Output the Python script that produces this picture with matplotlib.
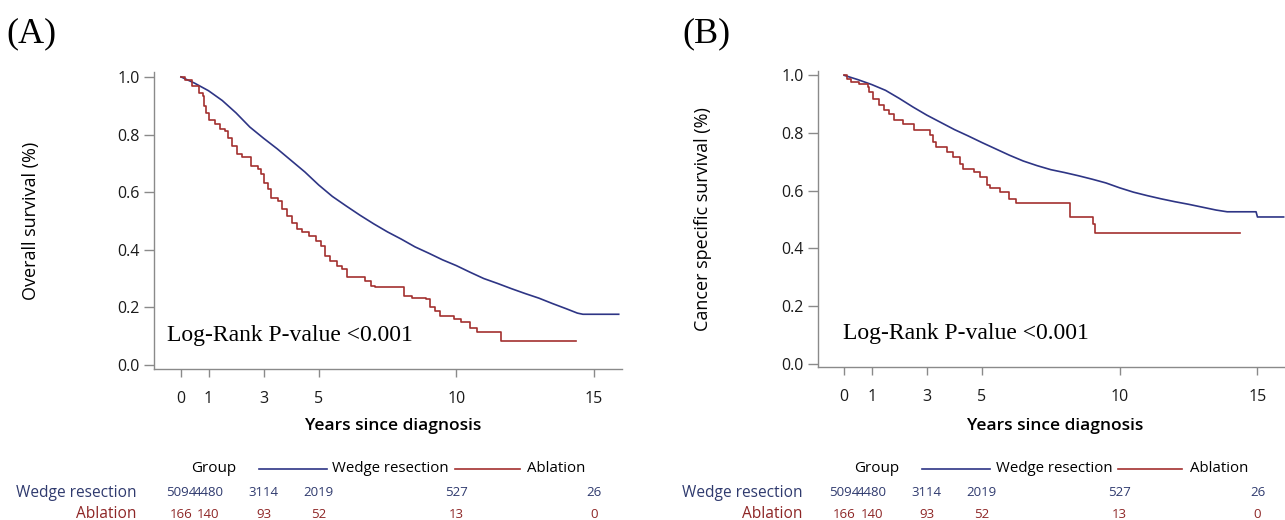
"""Kaplan-Meier curves: wedge resection vs ablation."""

import matplotlib

matplotlib.use("Agg")
import matplotlib.pyplot as plt
from matplotlib.lines import Line2D
from matplotlib.transforms import blended_transform_factory

# ---- data ----
# (A) overall survival
wedge_os_t = [0, 0.5, 1.0, 1.5, 2.0, 2.5, 3.0, 3.5, 4.0, 4.5, 5.0, 5.5, 6.0,
              6.5, 7.0, 7.5, 8.0, 8.5, 9.0, 9.5, 10.0, 10.5, 11.0, 11.5, 12.0,
              12.5, 13.0, 13.5, 14.0, 14.4, 14.6, 15.9]
wedge_os_s = [1.0, 0.978, 0.952, 0.918, 0.875, 0.826, 0.787, 0.75, 0.71, 0.67,
              0.625, 0.585, 0.552, 0.52, 0.49, 0.462, 0.437, 0.41, 0.388, 0.365,
              0.345, 0.322, 0.30, 0.283, 0.265, 0.248, 0.232, 0.213, 0.195,
              0.18, 0.176, 0.176]
abl_os_t = [0, 0.15, 0.40, 0.65, 0.80, 0.84, 0.90, 1.03, 1.22, 1.40, 1.59, 1.72,
            1.84, 2.03, 2.22, 2.53, 2.78, 2.91, 3.03, 3.16, 3.28, 3.53, 3.66,
            3.85, 4.04, 4.22, 4.41, 4.66, 4.91, 5.10, 5.23, 5.41, 5.66, 5.85,
            6.04, 6.67, 6.92, 7.04, 8.11, 8.40, 8.90, 9.05, 9.24, 9.42, 9.92,
            10.18, 10.49, 10.74, 11.62, 14.35]
abl_os_s = [1.0, 0.988, 0.968, 0.945, 0.933, 0.898, 0.875, 0.852, 0.835, 0.818,
            0.812, 0.789, 0.760, 0.731, 0.723, 0.691, 0.679, 0.662, 0.633, 0.610,
            0.581, 0.569, 0.540, 0.517, 0.494, 0.471, 0.460, 0.448, 0.431, 0.413,
            0.379, 0.361, 0.344, 0.333, 0.304, 0.292, 0.275, 0.269, 0.240, 0.234,
            0.229, 0.200, 0.188, 0.171, 0.159, 0.148, 0.130, 0.113, 0.084, 0.084]

# (B) cancer specific survival
wedge_css_t = [0, 0.5, 1.0, 1.5, 2.0, 2.5, 3.0, 3.5, 4.0, 4.5, 5.0, 5.5, 6.0,
               6.5, 7.0, 7.5, 8.0, 8.5, 9.0, 9.5, 10.0, 10.5, 11.0, 11.5, 12.0,
               12.5, 13.0, 13.5, 13.9, 14.95, 15.0, 15.95]
wedge_css_s = [1.0, 0.985, 0.968, 0.948, 0.92, 0.89, 0.862, 0.837, 0.812, 0.79,
               0.767, 0.745, 0.723, 0.703, 0.687, 0.673, 0.663, 0.652, 0.64,
               0.627, 0.61, 0.595, 0.583, 0.572, 0.562, 0.553, 0.543, 0.533,
               0.527, 0.527, 0.509, 0.509]
abl_css_t = [0, 0.12, 0.24, 0.55, 0.85, 0.91, 1.03, 1.28, 1.46, 1.64, 1.82, 2.12,
             2.55, 3.11, 3.23, 3.35, 3.72, 3.96, 4.19, 4.33, 4.70, 4.94, 5.18,
             5.31, 5.67, 5.98, 6.22, 8.19, 9.04, 9.10, 14.35]
abl_css_s = [1.0, 0.988, 0.977, 0.971, 0.960, 0.942, 0.919, 0.896, 0.879, 0.867,
             0.844, 0.833, 0.810, 0.792, 0.769, 0.752, 0.734, 0.717, 0.694, 0.677,
             0.665, 0.648, 0.619, 0.608, 0.596, 0.573, 0.556, 0.509, 0.486, 0.454,
             0.454]

risk_times = [0, 1, 3, 5, 10, 15]
wedge_at_risk = ["5094", "4480", "3114", "2019", "527", "26"]
abl_at_risk = ["166", "140", "93", "52", "13", "0"]

x_ticks = [0, 1, 3, 5, 10, 15]
y_ticks = [0.0, 0.2, 0.4, 0.6, 0.8, 1.0]

BLUE = "#2e3585"
RED = "#a3302f"
BLUE_TXT = "#2f3a6e"
RED_TXT = "#8e2626"
GREY = "#8a8a8a"
SANS = "Open Sans"
SERIF = "Liberation Serif"

W, H = 1285, 520
fig = plt.figure(figsize=(W / 100, H / 100), dpi=100)


def fx(p):
    return p / W


def fy(p):
    return 1 - p / H


panels = [
    dict(tag="(A)", tag_x=6, ylabel="Overall survival (%)", ylab_x=31,
         box=(154, 72, 622, 369), xlim=(-0.98, 16.02), ylim=(-0.014, 1.017),
         wedge=(wedge_os_t, wedge_os_s), abl=(abl_os_t, abl_os_s),
         lr=(167, 335), xlab=393, leg=(214, 259, 327, 332, 455, 520, 527),
         lab_r=137),
    dict(tag="(B)", tag_x=682, ylabel="Cancer specific survival (%)", ylab_x=703,
         box=(818, 71, 1285, 367), xlim=(-0.95, 16.0), ylim=(-0.011, 1.015),
         wedge=(wedge_css_t, wedge_css_s), abl=(abl_css_t, abl_css_s),
         lr=(843, 333), xlab=1055, leg=(877, 922, 990, 996, 1118, 1182, 1190),
         lab_r=803),
]

for p in panels:
    l, t, r, b = p["box"]
    ax = fig.add_axes([fx(l), fy(b), (r - l) / W, (b - t) / H])
    ax.plot(*p["wedge"], color=BLUE, lw=1.2)
    ax.step(*p["abl"], where="post", color=RED, lw=1.2)
    ax.set_xlim(*p["xlim"])
    ax.set_ylim(*p["ylim"])
    ax.set_xticks(x_ticks)
    ax.set_yticks(y_ticks)
    ax.set_yticklabels([f"{v:.1f}" for v in y_ticks])
    for side in ("top", "right"):
        ax.spines[side].set_visible(False)
    for side in ("left", "bottom"):
        ax.spines[side].set_color(GREY)
        ax.spines[side].set_linewidth(1.0)
    ax.tick_params(axis="y", length=7, width=1, color=GREY, pad=3,
                   labelsize=11.5, labelcolor="#1a1a1a")
    ax.tick_params(axis="x", length=6, width=1, color=GREY, pad=10,
                   labelsize=11.5, labelcolor="#1a1a1a")
    for lab in ax.get_xticklabels() + ax.get_yticklabels():
        lab.set_fontfamily(SANS)

    fig.text(fx(p["tag_x"]), fy(34), p["tag"], family=SERIF, fontsize=26,
             va="center", ha="left")
    fig.text(fx(p["ylab_x"]), fy((t + b) / 2), p["ylabel"], family=SANS,
             fontsize=13, rotation=90, va="center", ha="center")
    fig.text(fx(p["lr"][0]), fy(p["lr"][1]), "Log-Rank P-value <0.001",
             family=SERIF, fontsize=17, va="center", ha="left")
    fig.text(fx(p["xlab"]), fy(426), "Years since diagnosis", family=SANS,
             fontsize=12.5, weight="semibold", va="center", ha="center")

    # legend row
    g, b0, b1, wtx, r0, r1, atx = p["leg"]
    ly = fy(469)
    fig.text(fx(g), ly, "Group", family=SANS, fontsize=11, va="center",
             ha="center")
    fig.add_artist(Line2D([fx(b0), fx(b1)], [ly, ly], color=BLUE, lw=1.2))
    fig.text(fx(wtx), ly, "Wedge resection", family=SANS, fontsize=10.8,
             va="center", ha="left")
    fig.add_artist(Line2D([fx(r0), fx(r1)], [ly, ly], color=RED, lw=1.2))
    fig.text(fx(atx), ly, "Ablation", family=SANS, fontsize=10.8,
             va="center", ha="left")

    # numbers at risk
    fig.text(fx(p["lab_r"]), fy(493), "Wedge resection", family=SANS,
             fontsize=11.2, color=BLUE_TXT, va="center", ha="right")
    fig.text(fx(p["lab_r"]), fy(514), "Ablation", family=SANS,
             fontsize=11.2, color=RED_TXT, va="center", ha="right")
    trans = blended_transform_factory(ax.transData, fig.transFigure)
    for tm, nw, na in zip(risk_times, wedge_at_risk, abl_at_risk):
        ax.text(tm, fy(493), nw, transform=trans, family=SANS, fontsize=9.5,
                color=BLUE_TXT, va="center", ha="center", clip_on=False)
        ax.text(tm, fy(514), na, transform=trans, family=SANS, fontsize=9.5,
                color=RED_TXT, va="center", ha="center", clip_on=False)

fig.savefig("out.png", dpi=100)
